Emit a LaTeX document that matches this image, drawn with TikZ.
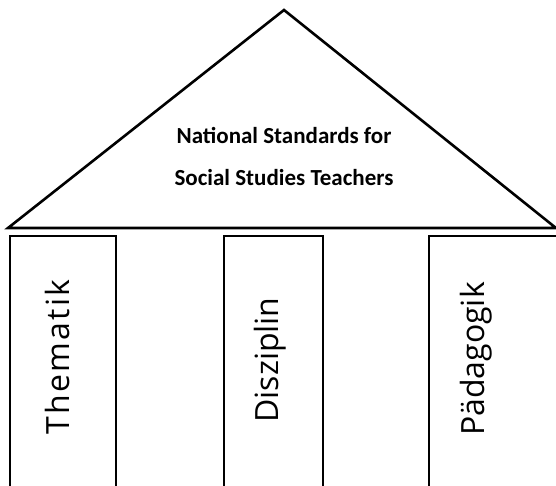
\documentclass[tikz,border=0pt]{standalone}
\usepackage{fontspec}
\setmainfont{Carlito}
\newfontfamily\pillarfont{Open Sans}
\begin{document}
\begin{tikzpicture}[x=1pt,y=-1pt,
  roof/.style = {draw=black,line width=2.6pt,line join=miter},
  pillar/.style = {rectangle,draw=black,line width=2.6pt,anchor=north west,outer sep=0mm},
  pillartext/.style = {rotate=90,font=\pillarfont\fontsize{32}{32}\selectfont,inner sep=0pt},
  titletext/.style = {font=\bfseries\fontsize{23}{42}\selectfont,align=center}]
\useasboundingbox (0,0) rectangle (556,485);
\clip (0,0) rectangle (556,485);
% roof
\coordinate (apex) at (284,10);
\coordinate (baseL) at (8,228);
\coordinate (baseR) at (556,228);
\draw[roof] (baseL) -- (apex) -- (baseR) -- cycle;
\node[titletext] (title) at (284,156) {National Standards for\\Social Studies Teachers};
% pillars
\foreach \x/\w/\tx/\ty/\ls/\t/\n in {10/106/57/357/7/Thematik/them,
                                     224/99/270/360/0/Disziplin/disz,
                                     429/132/476/359/0/Pädagogik/paed}
{
  \node[pillar,minimum width=\w,minimum height=280] (\n) at (\x,236) {};
  \node[pillartext] (\n text) at (\tx,\ty) {\addfontfeature{LetterSpace=\ls}\t};
}
\end{tikzpicture}
\end{document}
